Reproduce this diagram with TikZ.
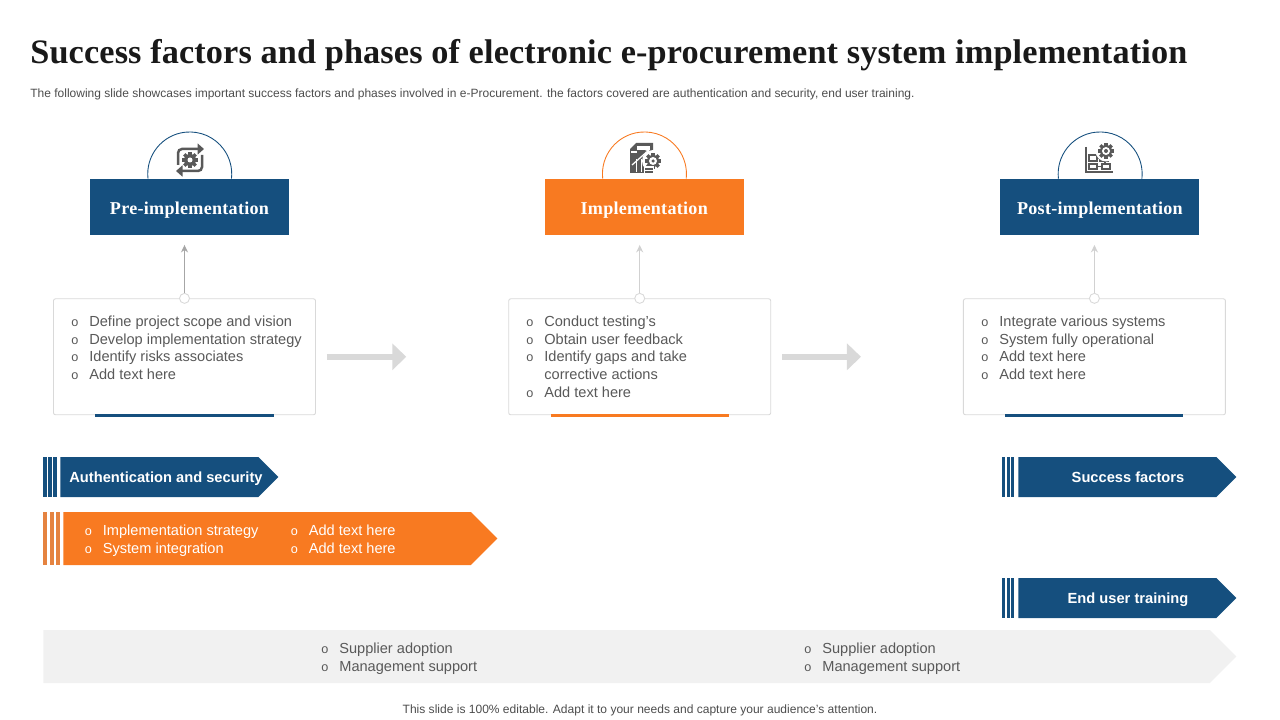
\documentclass[tikz,border=0pt]{standalone}
\usepackage{fontspec}
\setmainfont{Liberation Sans}
\newfontfamily\headfont{Liberation Serif}[LetterSpace=1.5]
\newfontfamily\titlefont{Liberation Serif}[LetterSpace=0.4]
\usepackage{xcolor}
\usetikzlibrary{arrows.meta, positioning, shapes.symbols, calc}

\definecolor{navy}{HTML}{154F7E}
\definecolor{tangerine}{HTML}{F87A21}
\definecolor{stripeorange}{HTML}{E58340}
\definecolor{rule}{HTML}{D9D9D9}
\definecolor{palegrey}{HTML}{F1F1F1}
\definecolor{icongrey}{HTML}{595959}
\definecolor{bodygrey}{HTML}{595959}

\newcommand{\itm}[1]{\makebox[3.6mm][l]{\fontsize{7.2}{8}\selectfont o}#1}
\newcommand{\gearat}[3]{%
  \foreach \a in {0,45,...,315}
    \fill[icongrey, shift={(#1,#2)}, rotate=\a] (-1.6,#3-1) rectangle (1.6,#3+2);
  \fill[icongrey] (#1,#2) circle[radius=#3*0.2mm];}

\begin{document}
\begin{tikzpicture}[x=0.2mm, y=-0.2mm,
    headbox/.style={fill=#1, text=white, minimum width=39.8mm, minimum height=11.2mm,
                    inner sep=0pt, text height=8.2pt, text depth=0pt,
                    font=\headfont\fontsize{10.3}{12}\selectfont\bfseries},
    card/.style={draw=rule, line width=0.5pt, rounded corners=0.4mm, fill=white,
                 minimum width=52.4mm, minimum height=23.2mm, inner sep=0pt},
    cardbar/.style={fill=#1, minimum width=35.6mm, minimum height=0.6mm, inner sep=0pt},
    dot/.style={draw=rule, fill=white, circle, minimum size=2mm, inner sep=0pt, line width=0.5pt},
    bullets/.style={align=left, anchor=north west, inner sep=0pt, text=bodygrey,
                    font=\fontsize{8.3}{10.1}\selectfont},
    tag/.style={signal, signal to=east, signal from=nowhere, signal pointer angle=90,
                fill=#1, inner sep=0pt, anchor=west, text=white},
    upline/.style={-{Stealth[length=1.5mm, width=1.4mm]}, line width=0.75pt, draw=#1},
    flow/.style={-{Triangle[length=2.8mm, width=5.2mm]}, line width=1.2mm, draw=rule},
    taglabel/.style={font=\fontsize{8.35}{10}\selectfont\bfseries, text=white, inner sep=0pt,
                     text height=6pt, text depth=0pt},
    arcline/.style={draw=#1, line width=0.5pt},
    iconline/.style={draw=icongrey, line width=0.5mm, rounded corners=0.8mm,
                     -{Triangle[length=1.3mm, width=2.2mm]}}
]
\useasboundingbox (0,0) rectangle (1280,720);

\node[anchor=west, inner sep=0pt, text=black!90, font=\titlefont\fontsize{19.5}{22}\selectfont\bfseries]
  (title) at (30,55) {Success factors and phases of electronic e-procurement system implementation};
\node[anchor=west, inner sep=0pt, text=black!70, font=\fontsize{6.83}{8}\selectfont]
  (subtitle) at (30,94) {The following slide showcases important success factors and phases involved in e-Procurement. the factors covered are authentication and security, end user training.};

\node[headbox=navy] (prehead) at (189.5,207) {Pre-implementation};
\node[headbox=tangerine, right=51mm of prehead] (implhead) {Implementation};
\node[headbox=navy, right=51.2mm of implhead] (posthead) {Post-implementation};

\draw[arcline=navy] ($(prehead.north)+(-41.5,0)$) arc[start angle=186.4, end angle=-6.4, radius=8.4mm];
\draw[arcline=tangerine] ($(implhead.north)+(-41.5,0)$) arc[start angle=186.4, end angle=-6.4, radius=8.4mm];
\draw[arcline=navy] ($(posthead.north)+(-41.5,0)$) arc[start angle=186.4, end angle=-6.4, radius=8.4mm];

\node[card, below=12.6mm of prehead, xshift=-1mm] (precard) {};
\node[card, below=12.6mm of implhead, xshift=-0.9mm] (implcard) {};
\node[card, below=12.6mm of posthead, xshift=-1.1mm] (postcard) {};
\node[cardbar=navy] (prebar) at (precard.south) {};
\node[cardbar=tangerine] (implbar) at (implcard.south) {};
\node[cardbar=navy] (postbar) at (postcard.south) {};

\node[dot] (predot) at (precard.north) {};
\node[dot] (impldot) at (implcard.north) {};
\node[dot] (postdot) at (postcard.north) {};
\coordinate[above=9.6mm of predot.north] (pretop);
\coordinate[above=9.6mm of impldot.north] (impltop);
\coordinate[above=9.6mm of postdot.north] (posttop);
\draw[upline=black!35] (predot) -- (pretop);
\draw[upline=black!18] (impldot) -- (impltop);
\draw[upline=black!18] (postdot) -- (posttop);

\draw[flow, shorten <=2.2mm, shorten >=20.4mm] (precard) -- (implcard);
\draw[flow, shorten <=2.2mm, shorten >=20.4mm] (implcard) -- (postcard);

\node[bullets] (prelist) at (71,315.5) {\itm{Define project scope and vision}\\\itm{Develop implementation strategy}\\\itm{Identify risks associates}\\\itm{Add text here}};
\node[bullets] (impllist) at (526,315.5) {\itm{Conduct testing’s}\\\itm{Obtain user  feedback}\\\itm{Identify gaps and take}\\\hspace*{3.6mm}corrective actions\\\itm{Add text here}};
\node[bullets] (postlist) at (981,315.5) {\itm{Integrate various systems}\\\itm{System fully operational}\\\itm{Add text here}\\\itm{Add text here}};

\foreach \x in {43,48,53}
  \fill[navy] (\x,457) rectangle ++(3.7,40);
\foreach \x in {43,49.7,56}
  \fill[stripeorange] (\x,512) rectangle ++(3.8,53);
\foreach \x in {1002,1007,1011}
  \fill[navy] (\x,457) rectangle ++(3.4,40);
\foreach \x in {1002,1007,1011}
  \fill[navy] (\x,578) rectangle ++(3.4,40);

\node[tag=navy, minimum width=43.6mm, minimum height=8mm] (authtag) at (60,477) {};
\node[tag=tangerine, minimum width=86.8mm, minimum height=10.6mm] (impltag) at (63,538.5) {};
\node[tag=navy, minimum width=43.6mm, minimum height=8mm] (succtag) at (1018,477) {};
\node[tag=navy, minimum width=43.6mm, minimum height=8mm] (endtag) at (1018,598) {};
\node[tag=palegrey, minimum width=238.6mm, minimum height=10.6mm] (greytag) at (43,656.5) {};

\node[taglabel, anchor=west] (authtext) at (69,477) {Authentication and security};
\node[taglabel] (succtext) at (1128,477) {Success factors};
\node[taglabel] (endtext) at (1128,598) {End user training};

\node[bullets, text=white] (stratlist) at (84.5,525) {\itm{Implementation strategy}\\\itm{System integration}};
\node[bullets, text=white] (addlist) at (290.5,525) {\itm{Add text here}\\\itm{Add text here}};
\node[bullets] (supplista) at (321,643) {\itm{Supplier adoption}\\\itm{Management support}};
\node[bullets] (supplistb) at (804,643) {\itm{Supplier adoption}\\\itm{Management support}};

\node[inner sep=0pt, text=black!70, font=\fontsize{6.85}{8}\selectfont] (footer) at (640,710) {This slide is 100\% editable. Adapt it to your needs and capture your audience's attention.};

\draw[iconline] (178,165) -- (178,149) -- (204,149);
\draw[iconline] (202,155) -- (202,171) -- (176,171);
\gearat{190}{160}{6}
\fill[white] (190,160) circle[radius=0.5mm];

\fill[icongrey] (630,149) -- (636,143) -- (653,143) -- (653,173) -- (630,173) -- cycle;
\fill[white] (637,146) rectangle (650,150);
\fill[white] (631,151) rectangle (637,153);
\draw[white, line width=0.25mm, -{Stealth[length=1mm]}] (632,165) -- (650,149);
\foreach \x in {636.5,641.5,646.5}
  \draw[white, line width=0.25mm] (\x,159) -- (\x,172);
\fill[white] (653,161) circle[radius=2.2mm];
\gearat{653}{161}{6}
\fill[white] (653,161) circle[radius=0.8mm];
\fill[icongrey] (653,161) circle[radius=0.35mm];
\fill[white] (644,166) rectangle (654,174);
\draw[icongrey, line width=0.3mm] (645,169) -- (653,169) (645,172) -- (653,172);

\draw[icongrey, line width=0.5mm] (1086,147) -- (1086,172) -- (1113,172);
\draw[icongrey, line width=0.3mm] (1089,155) rectangle (1097,161) (1100,155) rectangle (1108,161)
  (1089,164) rectangle (1097,169) (1102,164) rectangle (1110,169)
  (1097,158) -- (1100,158) (1097,166.5) -- (1102,166.5) (1105,161) -- (1105,164);
\fill[white] (1106,151) circle[radius=2.1mm];
\gearat{1106}{151}{6}
\fill[white] (1106,151) circle[radius=0.8mm];
\fill[icongrey] (1106,151) circle[radius=0.4mm];
\end{tikzpicture}
\end{document}
